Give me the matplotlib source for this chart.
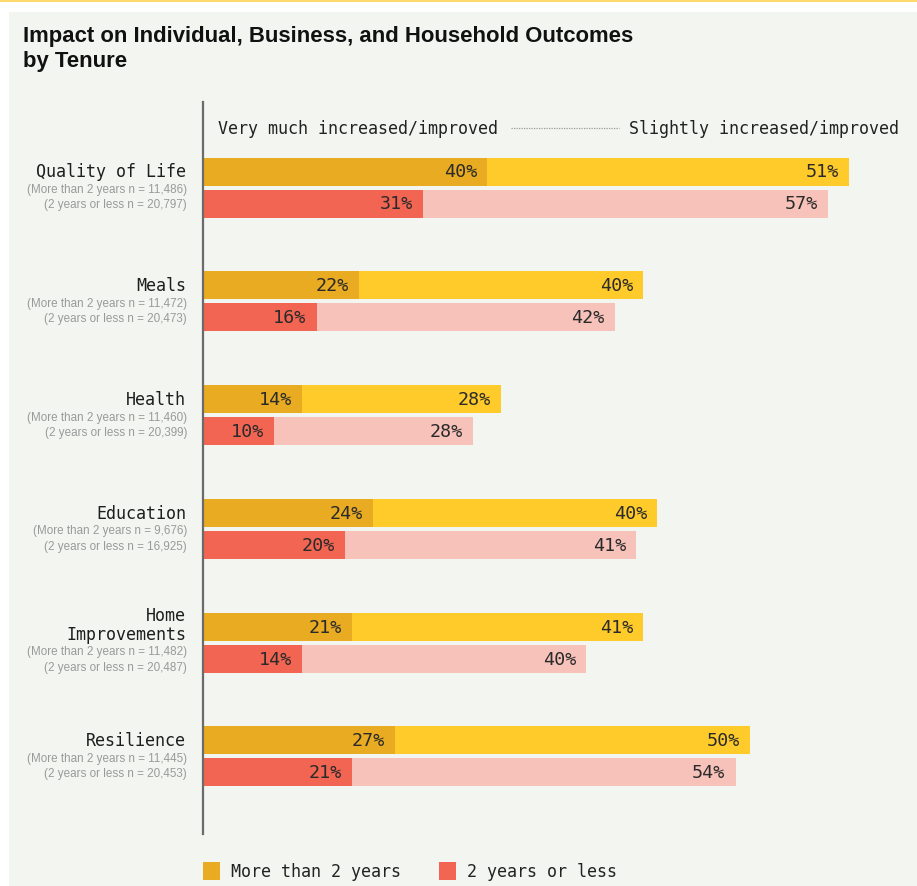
import matplotlib
matplotlib.use("Agg")
import matplotlib.pyplot as plt
from matplotlib.patches import Rectangle
from matplotlib.lines import Line2D

# ---- data ----
categories = ["Quality of Life", "Meals", "Health", "Education",
              "Home\nImprovements", "Resilience"]
n_more = ["11,486", "11,472", "11,460", "9,676", "11,482", "11,445"]
n_less = ["20,797", "20,473", "20,399", "16,925", "20,487", "20,453"]
very_more = [40, 22, 14, 24, 21, 27]
slight_more = [51, 40, 28, 40, 41, 50]
very_less = [31, 16, 10, 20, 14, 21]
slight_less = [57, 42, 28, 41, 40, 54]

# ---- style ----
C_VERY_MORE = "#E8AB22"
C_SLIGHT_MORE = "#FECB2A"
C_VERY_LESS = "#F26552"
C_SLIGHT_LESS = "#F6C2B9"
PANEL = "#F3F5F0"
MONO = ["DejaVu Sans Mono"]
SANS = ["Liberation Sans", "DejaVu Sans"]

W, H = 917, 887
fig = plt.figure(figsize=(W / 100, H / 100), dpi=100)
fig.patch.set_facecolor("white")


def fx(px):
    return px / W


def fy(py):
    return 1 - py / H


# page background pieces
fig.patches.append(Rectangle((fx(9), 0), 1, fy(13), transform=fig.transFigure,
                             facecolor=PANEL, edgecolor="none", zorder=-10))
fig.patches.append(Rectangle((0, fy(3)), 1, 3 / H, transform=fig.transFigure,
                             facecolor="#FFDA6A", edgecolor="none", zorder=-10))

# title
fig.text(fx(23), fy(42), "Impact on Individual, Business, and Household Outcomes",
         family=SANS, weight="bold", fontsize=15.9, color="#111111", va="baseline")
fig.text(fx(23), fy(67), "by Tenure",
         family=SANS, weight="bold", fontsize=15.9, color="#111111", va="baseline")

# plotting area: x in percent, y in layout units (top to bottom)
ax_left, ax_right, ax_top, ax_bot = 203, 913, 103, 835
ax = fig.add_axes([fx(ax_left), fy(ax_bot), (ax_right - ax_left) / W,
                   (ax_bot - ax_top) / H], zorder=5)
ax.set_facecolor("none")
ax.set_xlim(0, 100)
ax.set_ylim(ax_bot, ax_top)
for s in ["top", "right", "bottom"]:
    ax.spines[s].set_visible(False)
ax.spines["left"].set_color("#6b6b6b")
ax.spines["left"].set_linewidth(1.6)
ax.set_xticks([])
ax.set_yticks([])

first_row = 172.5
group_step = 113.8
row_gap = 32
bar_h = 28

label_kw = dict(family=MONO, fontsize=13.2, color="#2a2a2a",
                textcoords="offset points", ha="right", va="center")
pad = -7.2  # points left of segment end

for i, cat in enumerate(categories):
    y1 = first_row + i * group_step
    y2 = y1 + row_gap
    ax.barh(y1, very_more[i], height=bar_h, color=C_VERY_MORE, lw=0)
    ax.barh(y1, slight_more[i], left=very_more[i], height=bar_h,
            color=C_SLIGHT_MORE, lw=0)
    ax.barh(y2, very_less[i], height=bar_h, color=C_VERY_LESS, lw=0)
    ax.barh(y2, slight_less[i], left=very_less[i], height=bar_h,
            color=C_SLIGHT_LESS, lw=0)

    ax.annotate(f"{very_more[i]}%", (very_more[i], y1), xytext=(pad, 0), **label_kw)
    ax.annotate(f"{slight_more[i]}%", (very_more[i] + slight_more[i], y1),
                xytext=(pad, 0), **label_kw)
    ax.annotate(f"{very_less[i]}%", (very_less[i], y2), xytext=(pad, 0), **label_kw)
    ax.annotate(f"{slight_less[i]}%", (very_less[i] + slight_less[i], y2),
                xytext=(pad, 0), **label_kw)

    # category name (may span several lines) and sample sizes
    lines = cat.split("\n")
    last = y1 + (len(lines) - 1) * 7
    for k, line in enumerate(lines):
        yy = last - (len(lines) - 1 - k) * 19
        ax.annotate(line, (0, yy), xytext=(-12.3, 0), textcoords="offset points",
                    ha="right", va="center", family=MONO, fontsize=12,
                    color="#1e1e1e", annotation_clip=False)
    sub1 = last + 17.5
    ax.annotate(f"(More than 2 years n = {n_more[i]})", (0, sub1), xytext=(-11.5, 0),
                textcoords="offset points", ha="right", va="center",
                family=SANS, fontsize=8.4, color="#9a9a9a", annotation_clip=False)
    ax.annotate(f"(2 years or less n = {n_less[i]})", (0, sub1 + 15.5), xytext=(-11.5, 0),
                textcoords="offset points", ha="right", va="center",
                family=SANS, fontsize=8.4, color="#9a9a9a", annotation_clip=False)

# column header
fig.text(fx(218), fy(129), "Very much increased/improved", family=MONO,
         fontsize=12, color="#222222", va="center", ha="left")
fig.text(fx(899), fy(129), "Slightly increased/improved", family=MONO,
         fontsize=12, color="#222222", va="center", ha="right")
fig.lines.append(Line2D([fx(511), fx(619)], [fy(129), fy(129)],
                        transform=fig.transFigure, color="#9a9a9a",
                        lw=0.9, linestyle=(0, (1, 1))))

# legend
legend_items = [("More than 2 years", C_VERY_MORE, 203),
                ("2 years or less", C_VERY_LESS, 439)]
for text, color, x0 in legend_items:
    fig.patches.append(Rectangle((fx(x0), fy(881)), 17 / W, 18 / H,
                                 transform=fig.transFigure, facecolor=color,
                                 edgecolor="none"))
    fig.text(fx(x0 + 28), fy(872), text, family=MONO, fontsize=12,
             color="#222222", va="center", ha="left")

fig.savefig("out.png", dpi=100, facecolor=fig.get_facecolor())
